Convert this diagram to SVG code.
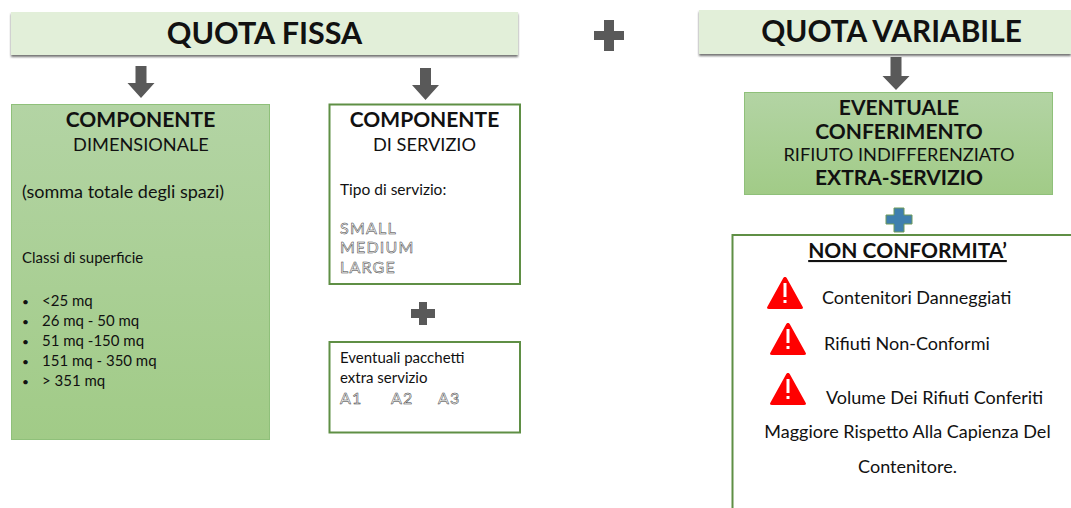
<svg xmlns="http://www.w3.org/2000/svg" width="1071" height="508" viewBox="0 0 1071 508">
<style>
text{font-family:Lato,"Open Sans","Liberation Sans",sans-serif;fill:#111}
.c{text-anchor:middle}
.h{font-size:30.500px;font-weight:700}
.hv{font-size:29.800px;font-weight:700}
.b{font-size:21px;font-weight:700}
.r{font-size:18.200px}
.s{font-size:15px}
.d{font-size:12px}
.n{font-size:18px}
.o{font-size:16px;font-weight:400;fill:#f6f6f6;stroke:#3a3a3a;stroke-width:.5;letter-spacing:1.200px}
.head{fill:#e2efd9;filter:url(#sh)}
.green{fill:url(#g);stroke:#8fc07a;stroke-width:1}
.white{fill:#fff;stroke:#5f8f45;stroke-width:2}
.arrow{fill:#595959}
</style>
<defs>
<linearGradient id="g" x1="0" y1="0" x2="0" y2="1"><stop offset="0" stop-color="#b3d4a4"/><stop offset="1" stop-color="#a1cb87"/></linearGradient>
<filter id="sh" x="-5%" y="-20%" width="110%" height="150%"><feDropShadow dx="0" dy="2" stdDeviation="1.300" flood-color="#444" flood-opacity=".75"/></filter>
<path id="warn" d="M18 0C19 0 19.500 .5 20 1.500L35.500 29.500C36.500 31 36 32 34 32H2C0 32-.5 31 .5 29.500L16 1.500C16.500 .5 17 0 18 0Z" fill="#ff0000"/>
</defs>
<g id="connectors">
<path class="arrow" d="M135.500 66H146.500V83H154.500L141 98L127.500 83H135.500Z"/>
<path class="arrow" d="M420 68H431V85H439L425.500 100L412 85H420Z"/>
<path class="arrow" d="M890.500 57H901.500V76H909.500L896 90L882.500 76H890.500Z"/>
</g>
<g id="plus-main"><path class="arrow" d="M604 20H614V31H624V40H614V51H604V40H594V31H604Z"/></g>
<g id="plus-service"><path class="arrow" d="M419 302H427V309H435V318H427V325H419V318H411V309H419Z"/></g>
<g id="plus-variable"><path d="M894 208H904V215H912V224H904V232H894V224H886V215H894Z" fill="#3f7fae" stroke="#6f9a5a" stroke-width="1"/></g>
<g id="quota-fissa">
<rect class="head" x="11" y="12" width="507" height="43"/>
<text class="h c" x="264.500" y="44">QUOTA FISSA</text>
</g>
<g id="quota-variabile">
<rect class="head" x="699" y="10" width="372" height="44"/>
<text class="hv c" x="891.500" y="42">QUOTA VARIABILE</text>
</g>
<g id="componente-dimensionale">
<rect class="green" x="11.500" y="104.500" width="258" height="335"/>
<text class="b c" x="140.500" y="127">COMPONENTE</text>
<text class="r c" x="141" y="151">DIMENSIONALE</text>
<text class="r" x="22" y="198" style="font-size:18px">(somma totale degli spazi)</text>
<text class="s" x="22" y="263">Classi di superficie</text>
<text class="d" x="22" y="306">•</text><text class="s" x="42" y="306">&lt;25 mq</text>
<text class="d" x="22" y="326">•</text><text class="s" x="42" y="326">26 mq - 50 mq</text>
<text class="d" x="22" y="346">•</text><text class="s" x="42" y="346">51 mq -150 mq</text>
<text class="d" x="22" y="366">•</text><text class="s" x="42" y="366">151 mq - 350 mq</text>
<text class="d" x="22" y="386">•</text><text class="s" x="42" y="386">&gt; 351 mq</text>
</g>
<g id="componente-servizio">
<rect class="white" x="329.500" y="104.500" width="190.500" height="179.500"/>
<text class="b c" x="424.500" y="127">COMPONENTE</text>
<text class="r c" x="424.500" y="151">DI SERVIZIO</text>
<text class="s" x="340" y="195" style="font-size:15.500px">Tipo di servizio:</text>
<text class="o" x="340" y="234">SMALL</text>
<text class="o" x="340" y="253">MEDIUM</text>
<text class="o" x="340" y="273">LARGE</text>
</g>
<g id="pacchetti-extra">
<rect class="white" x="329.500" y="342" width="190.500" height="90.500"/>
<text class="s" x="340" y="363">Eventuali pacchetti</text>
<text class="s" x="340" y="383">extra servizio</text>
<text class="o" x="340" y="404">A1</text>
<text class="o" x="391" y="404">A2</text>
<text class="o" x="438" y="404">A3</text>
</g>
<g id="eventuale-conferimento">
<rect class="green" x="744.500" y="92.500" width="308" height="102"/>
<text class="b c" x="899" y="115">EVENTUALE</text>
<text class="b c" x="899" y="139">CONFERIMENTO</text>
<text class="r c" x="899" y="161">RIFIUTO INDIFFERENZIATO</text>
<text class="b c" x="899" y="185">EXTRA-SERVIZIO</text>
</g>
<g id="non-conformita">
<path d="M1071 235H732.500V508" fill="#fff" stroke="#5f8f45" stroke-width="2"/>
<text class="b c" x="907.500" y="258" text-decoration="underline">NON CONFORMITA’</text>
<use href="#warn" x="767" y="277"/><rect x="783.500" y="283" width="3" height="14" fill="#fff"/><rect x="783.500" y="300" width="3" height="3" fill="#fff"/>
<text class="n" x="822" y="304">Contenitori Danneggiati</text>
<use href="#warn" x="770" y="323"/><rect x="786.500" y="329" width="3" height="14" fill="#fff"/><rect x="786.500" y="346" width="3" height="3" fill="#fff"/>
<text class="n" x="824" y="350">Rifiuti Non-Conformi</text>
<use href="#warn" x="770" y="373"/><rect x="786.500" y="379" width="3" height="14" fill="#fff"/><rect x="786.500" y="396" width="3" height="3" fill="#fff"/>
<text class="n" x="826" y="404">Volume Dei Rifiuti Conferiti</text>
<text class="n c" x="907.500" y="438">Maggiore Rispetto Alla Capienza Del</text>
<text class="n c" x="907.500" y="473">Contenitore.</text>
</g>
</svg>
